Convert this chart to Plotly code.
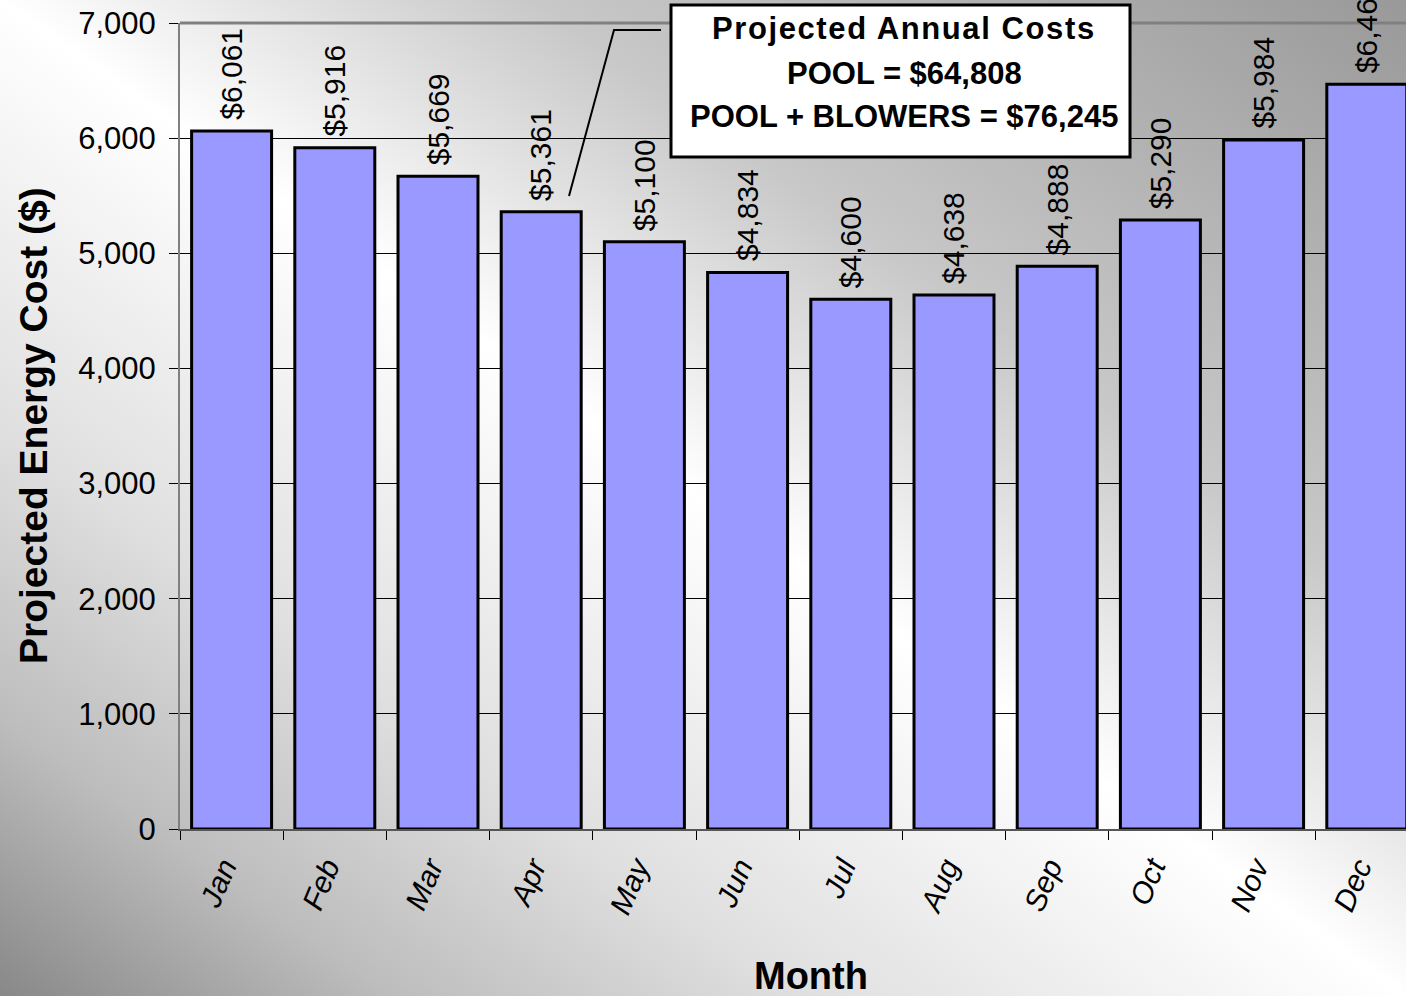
import base64
import plotly.graph_objects as go

# Monthly projected energy cost for the pool ($)
months = ["Jan", "Feb", "Mar", "Apr", "May", "Jun",
          "Jul", "Aug", "Sep", "Oct", "Nov", "Dec"]
costs = [6061, 5916, 5669, 5361, 5100, 4834, 4600, 4638, 4888, 5290, 5984, 6467]

y_ticks = [0, 1000, 2000, 3000, 4000, 5000, 6000, 7000]

summary_lines = [
    "Projected Annual Costs",
    "POOL = $64,808",
    "POOL + BLOWERS = $76,245",
]

W, H = 1406, 996
ML, MR, MT, MB = 180, 0, 23, 167
PW, PH = W - ML - MR, H - MT - MB

FONT = "Liberation Sans, Arial, sans-serif"


def px(x):
    return (x - ML) / PW


def py(y):
    return (H - MB - y) / PH


# diagonal grey/white/grey backdrop covering the whole figure
svg = f"""<svg xmlns='http://www.w3.org/2000/svg' width='{W}' height='{H}' viewBox='0 0 {W} {H}' preserveAspectRatio='none'>
<defs><linearGradient id='g' x1='1' y1='0' x2='0' y2='1'>
<stop offset='0' stop-color='#999999'/>
<stop offset='0.31' stop-color='#c8c8c8'/>
<stop offset='0.5' stop-color='#ffffff'/>
<stop offset='0.71' stop-color='#e0e0e0'/>
<stop offset='0.86' stop-color='#bdbdbd'/>
<stop offset='1' stop-color='#888888'/>
</linearGradient></defs>
<rect x='0' y='0' width='{W}' height='{H}' fill='url(#g)'/></svg>"""
bg_src = "data:image/svg+xml;base64," + base64.b64encode(svg.encode()).decode()

fig = go.Figure()
fig.add_trace(go.Bar(
    x=months, y=costs,
    marker=dict(color="#9999FF", line=dict(color="black", width=3)),
    hoverinfo="skip",
))

annotations = []
# value labels above each bar
for m, v in zip(months, costs):
    annotations.append(dict(
        x=m, y=v, xref="x", yref="y", text=f"${v:,}", showarrow=False,
        textangle=-90, yanchor="bottom", xanchor="center", yshift=9,
        font=dict(family=FONT, size=30, color="black"),
    ))

# summary box text (title line slightly letter-spaced)
box_styles = ["letter-spacing:1.6px", "", ""]
for text, yc, st in zip(summary_lines, [29, 73, 117], box_styles):
    label = f"<b>{text}</b>"
    if st:
        label = f"<span style='{st}'>{label}</span>"
    annotations.append(dict(
        x=px(904), y=py(yc), xref="paper", yref="paper", text=label,
        showarrow=False, xanchor="center", yanchor="middle",
        font=dict(family=FONT, size=31, color="black"),
    ))

# axis titles
annotations.append(dict(
    x=px(33), y=py(426), xref="paper", yref="paper",
    text="<b>Projected Energy Cost ($)</b>", showarrow=False, textangle=-90,
    xanchor="center", yanchor="middle", font=dict(family=FONT, size=39, color="black"),
))
annotations.append(dict(
    x=px(811), y=py(976), xref="paper", yref="paper", text="<b>Month</b>",
    showarrow=False, xanchor="center", yanchor="middle",
    font=dict(family=FONT, size=38, color="black"),
))

shapes = [
    # top border of the plot area
    dict(type="line", xref="paper", yref="paper", x0=0, x1=1, y0=1, y1=1,
         line=dict(color="#808080", width=3)),
    # callout leader
    dict(type="path", xref="paper", yref="paper",
         path=f"M {px(661)} {py(30)} L {px(614)} {py(30)} L {px(569)} {py(196)}",
         line=dict(color="black", width=2)),
    # summary box
    dict(type="rect", xref="paper", yref="paper",
         x0=px(671), x1=px(1130), y0=py(157), y1=py(5),
         fillcolor="white", line=dict(color="black", width=3)),
]

fig.update_layout(
    width=W, height=H, autosize=False,
    margin=dict(l=ML, r=MR, t=MT, b=MB, pad=0),
    paper_bgcolor="white", plot_bgcolor="rgba(0,0,0,0)",
    showlegend=False, bargap=0.225,
    font=dict(family=FONT, color="black"),
    images=[dict(source=bg_src, xref="paper", yref="paper",
                 x=-ML / PW, y=1 + MT / PH, sizex=W / PW, sizey=H / PH,
                 xanchor="left", yanchor="top", sizing="stretch", layer="below")],
    annotations=annotations,
    shapes=shapes,
)

fig.update_xaxes(
    range=[-0.5, -0.5 + PW / 103.2], automargin=False,
    showline=True, linecolor="#555555", linewidth=1.5,
    ticks="outside", tickson="boundaries", ticklen=9, tickcolor="black", tickwidth=1,
    tickangle=-67, showgrid=False, ticklabelstandoff=7, ticklabelshift=-8,
    tickfont=dict(family=FONT, size=30, color="black", style="italic"),
)
fig.update_yaxes(
    range=[0, 7000], tickvals=y_ticks, tickformat=",", automargin=False,
    showline=True, linecolor="#808080", linewidth=2,
    ticks="outside", ticklen=9, tickcolor="black", tickwidth=1,
    showgrid=True, gridcolor="black", gridwidth=1, zeroline=False,
    ticklabelstandoff=7,
    tickfont=dict(family=FONT, size=31, color="black"),
)

fig.write_html("out.html", config={"displayModeBar": False})
